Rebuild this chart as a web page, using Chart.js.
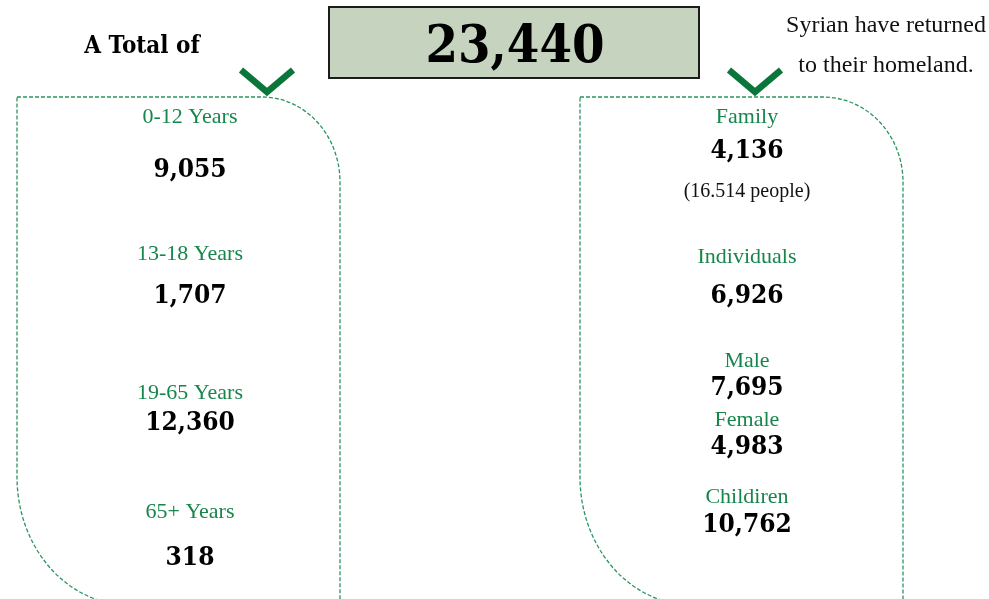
<!DOCTYPE html>
<html lang="en">
<head>
<meta charset="UTF-8">
<title>Syrians returned to their homeland</title>
<script src="https://cdn.jsdelivr.net/npm/chart.js"></script>
<style>
  html, body { margin: 0; padding: 0; background: #fff; }
  #wrap { width: 989px; height: 599px; }
</style>
</head>
<body>
<div id="wrap"><canvas id="returnsChart"></canvas></div>
<script>
// data
const totalReturned = 23440;
const ageGroups = ['0-12 Years', '13-18 Years', '19-65 Years', '65+ Years'];
const ageCounts = [9055, 1707, 12360, 318];
const groupNames = ['Family', 'Individuals', 'Male', 'Female', 'Childiren'];
const groupCounts = [4136, 6926, 7695, 4983, 10762];
const familyNote = '(16.514 people)';
const headLeft = 'A Total of';
const headRight = ['Syrian have returned', 'to their homeland.'];

// layout, in the 989 x 599 space of the (hidden) scales; baselines
const leftX = 190, rightX = 747;
const ageLabelY = [123, 260, 399, 518];
const ageValueY = [177, 303, 430, 565];
const groupLabelY = [123, 263, 367, 426, 503];
const groupValueY = [158, 303, 395, 454, 532];
const noteY = 197;

const GREEN = '#17864c';
const DARK_GREEN = '#0b763a';
const LABEL_FONT = '22px "Liberation Serif", serif';
const VALUE_FONT = 'bold 26px "DejaVu Serif Condensed", "DejaVu Serif", serif';

const fmt = v => v.toLocaleString('en-US');

const infoPlugin = {
  id: 'info',
  afterDatasetsDraw(chart) {
    const ctx = chart.ctx;
    const sx = v => chart.scales.x.getPixelForValue(v);
    const sy = v => chart.scales.y.getPixelForValue(v);
    ctx.save();

    // total box
    ctx.fillStyle = '#c6d4bf';
    ctx.fillRect(sx(329), sy(7), sx(699) - sx(329), sy(78) - sy(7));
    ctx.strokeStyle = '#1c1c1c';
    ctx.lineWidth = 2;
    ctx.strokeRect(sx(329), sy(7), sx(699) - sx(329), sy(78) - sy(7));
    ctx.fillStyle = '#000';
    ctx.textAlign = 'center';
    ctx.textBaseline = 'alphabetic';
    ctx.font = 'bold 52px "DejaVu Serif Condensed", "DejaVu Serif", serif';
    ctx.fillText(fmt(totalReturned), sx(515), sy(62));

    ctx.font = 'bold 24px "DejaVu Serif Condensed", "DejaVu Serif", serif';
    ctx.fillText(headLeft, sx(142), sy(53));
    ctx.font = '24px "Liberation Serif", serif';
    ctx.fillStyle = '#111';
    ctx.fillText(headRight[0], sx(886), sy(32));
    ctx.fillText(headRight[1], sx(886), sy(72));

    // dashed panels
    function panel(x0, y0, x1, y1, trx, try_, blx, bly) {
      ctx.beginPath();
      ctx.moveTo(sx(x0), sy(y0));
      ctx.lineTo(sx(x1 - trx), sy(y0));
      ctx.ellipse(sx(x1 - trx), sy(y0 + try_), trx, try_, 0, -Math.PI / 2, 0);
      ctx.lineTo(sx(x1), sy(y1));
      ctx.moveTo(sx(x0 + blx), sy(y1));
      ctx.ellipse(sx(x0 + blx), sy(y1 - bly), blx, bly, 0, Math.PI / 2, Math.PI);
      ctx.lineTo(sx(x0), sy(y0));
      ctx.stroke();
    }
    ctx.setLineDash([4, 2]);
    ctx.lineWidth = 1.3;
    ctx.strokeStyle = '#2a9560';
    panel(17, 97, 340, 605, 78, 85, 112, 128);
    panel(580, 97, 903, 605, 80, 85, 112, 128);
    ctx.setLineDash([]);

    // check marks
    ctx.strokeStyle = DARK_GREEN;
    ctx.lineWidth = 6.5;
    ctx.lineJoin = 'miter';
    [267, 755].forEach(cx => {
      ctx.beginPath();
      ctx.moveTo(sx(cx - 26), sy(70));
      ctx.lineTo(sx(cx), sy(92));
      ctx.lineTo(sx(cx + 26), sy(70));
      ctx.stroke();
    });

    // labels and values
    chart.data.datasets.forEach((ds, di) => {
      const meta = chart.getDatasetMeta(di);
      meta.data.forEach((pt, i) => {
        ctx.fillStyle = GREEN;
        ctx.font = LABEL_FONT;
        ctx.fillText(ds.names[i], pt.x, sy(ds.labelY[i]));
        ctx.fillStyle = '#000';
        ctx.font = VALUE_FONT;
        ctx.fillText(fmt(ds.counts[i]), pt.x, pt.y);
      });
    });
    ctx.fillStyle = '#111';
    ctx.font = '20px "Liberation Serif", serif';
    ctx.fillText(familyNote, sx(rightX), sy(noteY));

    ctx.restore();
  }
};

new Chart(document.getElementById('returnsChart'), {
  type: 'scatter',
  data: {
    datasets: [
      {
        label: 'Age groups',
        names: ageGroups,
        counts: ageCounts,
        labelY: ageLabelY,
        data: ageCounts.map((v, i) => ({ x: leftX, y: ageValueY[i] })),
        pointRadius: 0
      },
      {
        label: 'Returnee groups',
        names: groupNames,
        counts: groupCounts,
        labelY: groupLabelY,
        data: groupCounts.map((v, i) => ({ x: rightX, y: groupValueY[i] })),
        pointRadius: 0
      }
    ]
  },
  options: {
    responsive: true,
    maintainAspectRatio: false,
    animation: false,
    layout: { padding: 0 },
    plugins: { legend: { display: false }, tooltip: { enabled: false } },
    scales: {
      x: { type: 'linear', min: 0, max: 989, display: false },
      y: { type: 'linear', min: 0, max: 599, reverse: true, display: false }
    }
  },
  plugins: [infoPlugin]
});
</script>
</body>
</html>
